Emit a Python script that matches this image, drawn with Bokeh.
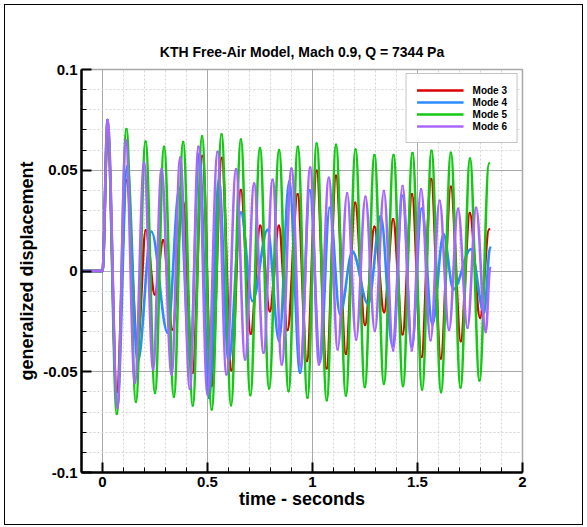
from bokeh.plotting import figure
from bokeh.models import (Legend, LegendItem, SingleIntervalTicker, Range1d,
                          CustomJSTickFormatter, ColumnDataSource)
from bokeh.embed import file_html
from bokeh.resources import INLINE

TITLE = "KTH Free-Air Model, Mach 0.9, Q = 7344 Pa"
X_LABEL = "time - seconds"
Y_LABEL = "generalized displacement"
SERIES_NAMES = ["Mode 3", "Mode 4", "Mode 5", "Mode 6"]
SERIES_COLORS = ["#dd0000", "#2a8cff", "#14c814", "#a866ff"]

# (time [s], generalized displacement): start, peaks and troughs
mode3 = [(-0.1, 0), (0.0, 0), (0.024, 0.070), (0.068, -0.060), (0.114, 0.045), (0.167, -0.0364),
         (0.206, 0.0202), (0.249, -0.0116), (0.289, 0.0152), (0.333, -0.029), (0.382, 0.035),
         (0.429, -0.0505), (0.476, 0.0571), (0.519, -0.0571), (0.568, 0.056), (0.614, -0.0492),
         (0.659, 0.0402), (0.706, -0.0311), (0.751, 0.0224), (0.797, -0.0199), (0.840, 0.0224),
         (0.881, -0.0293), (0.929, 0.0381), (0.973, -0.0447), (1.020, 0.0497), (1.067, -0.0483),
         (1.112, 0.0472), (1.159, -0.0411), (1.203, 0.0339), (1.250, -0.0268), (1.295, 0.0219),
         (1.341, -0.0204), (1.384, 0.0257), (1.429, -0.0314), (1.474, 0.0381), (1.519, -0.0427),
         (1.565, 0.0456), (1.611, -0.0434), (1.659, 0.0418), (1.706, -0.0348), (1.749, 0.0287),
         (1.798, -0.0232), (1.841, 0.0207)]
mode4 = [(-0.1, 0), (0.0, 0), (0.024, 0.0749), (0.070, -0.067), (0.118, 0.052), (0.168, -0.045),
         (0.233, 0.0195), (0.310, -0.0306), (0.366, 0.041), (0.416, -0.045), (0.461, 0.058),
         (0.508, -0.063), (0.554, 0.045), (0.601, -0.045), (0.659, 0.029), (0.714, -0.0149),
         (0.786, 0.0204), (0.841, -0.0348), (0.889, 0.0444), (0.941, -0.0505), (0.987, 0.040),
         (1.036, -0.045), (1.082, 0.0314), (1.131, -0.0215), (1.190, 0.0096), (1.265, -0.0165),
         (1.325, 0.0273), (1.381, -0.0373), (1.429, 0.0373), (1.473, -0.0373), (1.520, 0.031),
         (1.571, -0.0265), (1.624, 0.0182), (1.671, -0.0091), (1.754, 0.0108), (1.817, -0.0207),
         (1.846, 0.0116)]
mode5 = [(-0.1, 0), (0.0, 0), (0.024, 0.072), (0.068, -0.0709), (0.114, 0.0704), (0.159, -0.0649),
         (0.205, 0.0642), (0.250, -0.0605), (0.293, 0.0616), (0.340, -0.0624), (0.384, 0.064),
         (0.430, -0.0667), (0.474, 0.0669), (0.520, -0.0687), (0.567, 0.0679), (0.612, -0.0666),
         (0.659, 0.0652), (0.704, -0.0616), (0.750, 0.061), (0.793, -0.0583), (0.841, 0.060),
         (0.886, -0.0596), (0.930, 0.0616), (0.976, -0.0629), (1.020, 0.0632), (1.068, -0.0641),
         (1.112, 0.0626), (1.159, -0.0618), (1.205, 0.0603), (1.249, -0.0576), (1.295, 0.0575),
         (1.340, -0.056), (1.386, 0.0575), (1.431, -0.0571), (1.476, 0.0585), (1.522, -0.0588),
         (1.567, 0.0596), (1.612, -0.0601), (1.659, 0.0586), (1.705, -0.0578), (1.750, 0.0558),
         (1.795, -0.0543), (1.841, 0.0535)]
mode6 = [(-0.1, 0), (0.0, 0), (0.024, 0.0749), (0.071, -0.0679), (0.111, 0.0649), (0.154, -0.0555),
         (0.198, 0.0538), (0.241, -0.0488), (0.281, 0.0505), (0.329, -0.0513), (0.370, 0.0563),
         (0.416, -0.0585), (0.457, 0.0616), (0.500, -0.0613), (0.548, 0.0591), (0.590, -0.0513),
         (0.636, 0.0505), (0.679, -0.0439), (0.722, 0.0434), (0.767, -0.0406), (0.810, 0.0452),
         (0.854, -0.0464), (0.900, 0.0508), (0.944, -0.0472), (0.989, 0.0513), (1.031, -0.0464),
         (1.078, 0.0463), (1.120, -0.0389), (1.165, 0.0386), (1.208, -0.034), (1.252, 0.0368),
         (1.297, -0.0298), (1.340, 0.0397), (1.384, -0.0394), (1.429, 0.0422), (1.473, -0.0394),
         (1.517, 0.0406), (1.562, -0.0344), (1.605, 0.0348), (1.650, -0.0293), (1.693, 0.0309),
         (1.738, -0.0282), (1.779, 0.0314), (1.825, -0.0303), (1.846, 0.0016)]
SERIES = [mode3, mode4, mode5, mode6]

FONT = "Liberation Sans"
W, H = 577, 519

p = figure(width=W, height=H, x_range=Range1d(-0.1, 2.0), y_range=Range1d(-0.1, 0.1),
           output_backend="svg", toolbar_location=None,
           min_border_left=76, min_border_right=60, min_border_top=64, min_border_bottom=52,
           styles={"margin-left": "5px", "margin-top": "5px",
                   "outline": "1px solid black", "outline-offset": "0px"})

p.title.text = TITLE
p.title.align = "center"
p.title.offset = -22
p.title.text_font = FONT
p.title.text_font_size = "14px"
p.title.text_font_style = "bold"
p.title.text_color = "black"
p.title.standoff = 19

fmt = CustomJSTickFormatter(code="""
let s = tick.toFixed(2);
if (s.indexOf('.') >= 0) { s = s.replace(/0+$/, '').replace(/\\.$/, ''); }
if (s === '-0') { s = '0'; }
return s;
""")

p.xaxis.ticker = SingleIntervalTicker(interval=0.5, num_minor_ticks=5)
p.yaxis.ticker = SingleIntervalTicker(interval=0.05, num_minor_ticks=5)
p.xgrid.ticker = p.xaxis.ticker
p.ygrid.ticker = p.yaxis.ticker

for ax in (p.xaxis[0], p.yaxis[0]):
    ax.formatter = fmt
    ax.axis_line_color = "black"
    ax.axis_line_width = 2.5
    ax.major_tick_in = 10
    ax.major_tick_out = 0
    ax.major_tick_line_width = 2
    ax.minor_tick_in = 5
    ax.minor_tick_out = 0
    ax.minor_tick_line_width = 1
    ax.major_label_text_font = FONT
    ax.major_label_text_font_size = "15px"
    ax.major_label_text_font_style = "bold"
    ax.major_label_text_color = "black"
    ax.axis_label_text_font = FONT
    ax.axis_label_text_font_style = "bold"
    ax.axis_label_text_color = "black"
    ax.axis_label_text_font_size = "18px"

p.xaxis.axis_label = X_LABEL
p.yaxis.axis_label = Y_LABEL
p.xaxis.major_label_standoff = 4
p.yaxis.major_label_standoff = 4
p.xaxis.axis_label_standoff = -1
p.yaxis.axis_label_standoff = 3

for g in (p.xgrid[0], p.ygrid[0]):
    g.grid_line_color = "#a8a8a8"
    g.minor_grid_line_color = "#d4d4d4"
    g.minor_grid_line_dash = "2 2"

p.outline_line_color = "#a8a8a8"
p.outline_line_width = 1.5

# each half-swing between two read extremes is drawn as a cubic Bezier with
# horizontal tangents at the extremes (smooth sinusoid-like look)
K = 0.36
items = []
for name, color, data in zip(SERIES_NAMES, SERIES_COLORS, SERIES):
    a, b = data[:-1], data[1:]
    src = ColumnDataSource(dict(
        x0=[s[0] for s in a], y0=[s[1] for s in a],
        x1=[e[0] for e in b], y1=[e[1] for e in b],
        cx0=[s[0] + K * (e[0] - s[0]) for s, e in zip(a, b)], cy0=[s[1] for s in a],
        cx1=[e[0] - K * (e[0] - s[0]) for s, e in zip(a, b)], cy1=[e[1] for e in b]))
    p.bezier(x0="x0", y0="y0", x1="x1", y1="y1", cx0="cx0", cy0="cy0", cx1="cx1", cy1="cy1",
             source=src, line_color=color, line_width=2.6, line_cap="round")
    # the flat pre-start stretch of the series as a plain line: also serves as legend key
    key = p.line(x=[d[0] for d in data[:2]], y=[d[1] for d in data[:2]],
                 line_color=color, line_width=2.6)
    items.append(LegendItem(label=name, renderers=[key]))

legend = Legend(items=items, location="top_right", margin=4, padding=10, spacing=0,
                label_height=12, glyph_height=12, glyph_width=47, label_standoff=9,
                label_text_font=FONT, label_text_font_size="10px", label_text_font_style="bold",
                label_text_color="black",
                border_line_color="#8a8a8a", border_line_width=1.5)
p.add_layout(legend)

open("out.html", "w").write(file_html(p, INLINE))
